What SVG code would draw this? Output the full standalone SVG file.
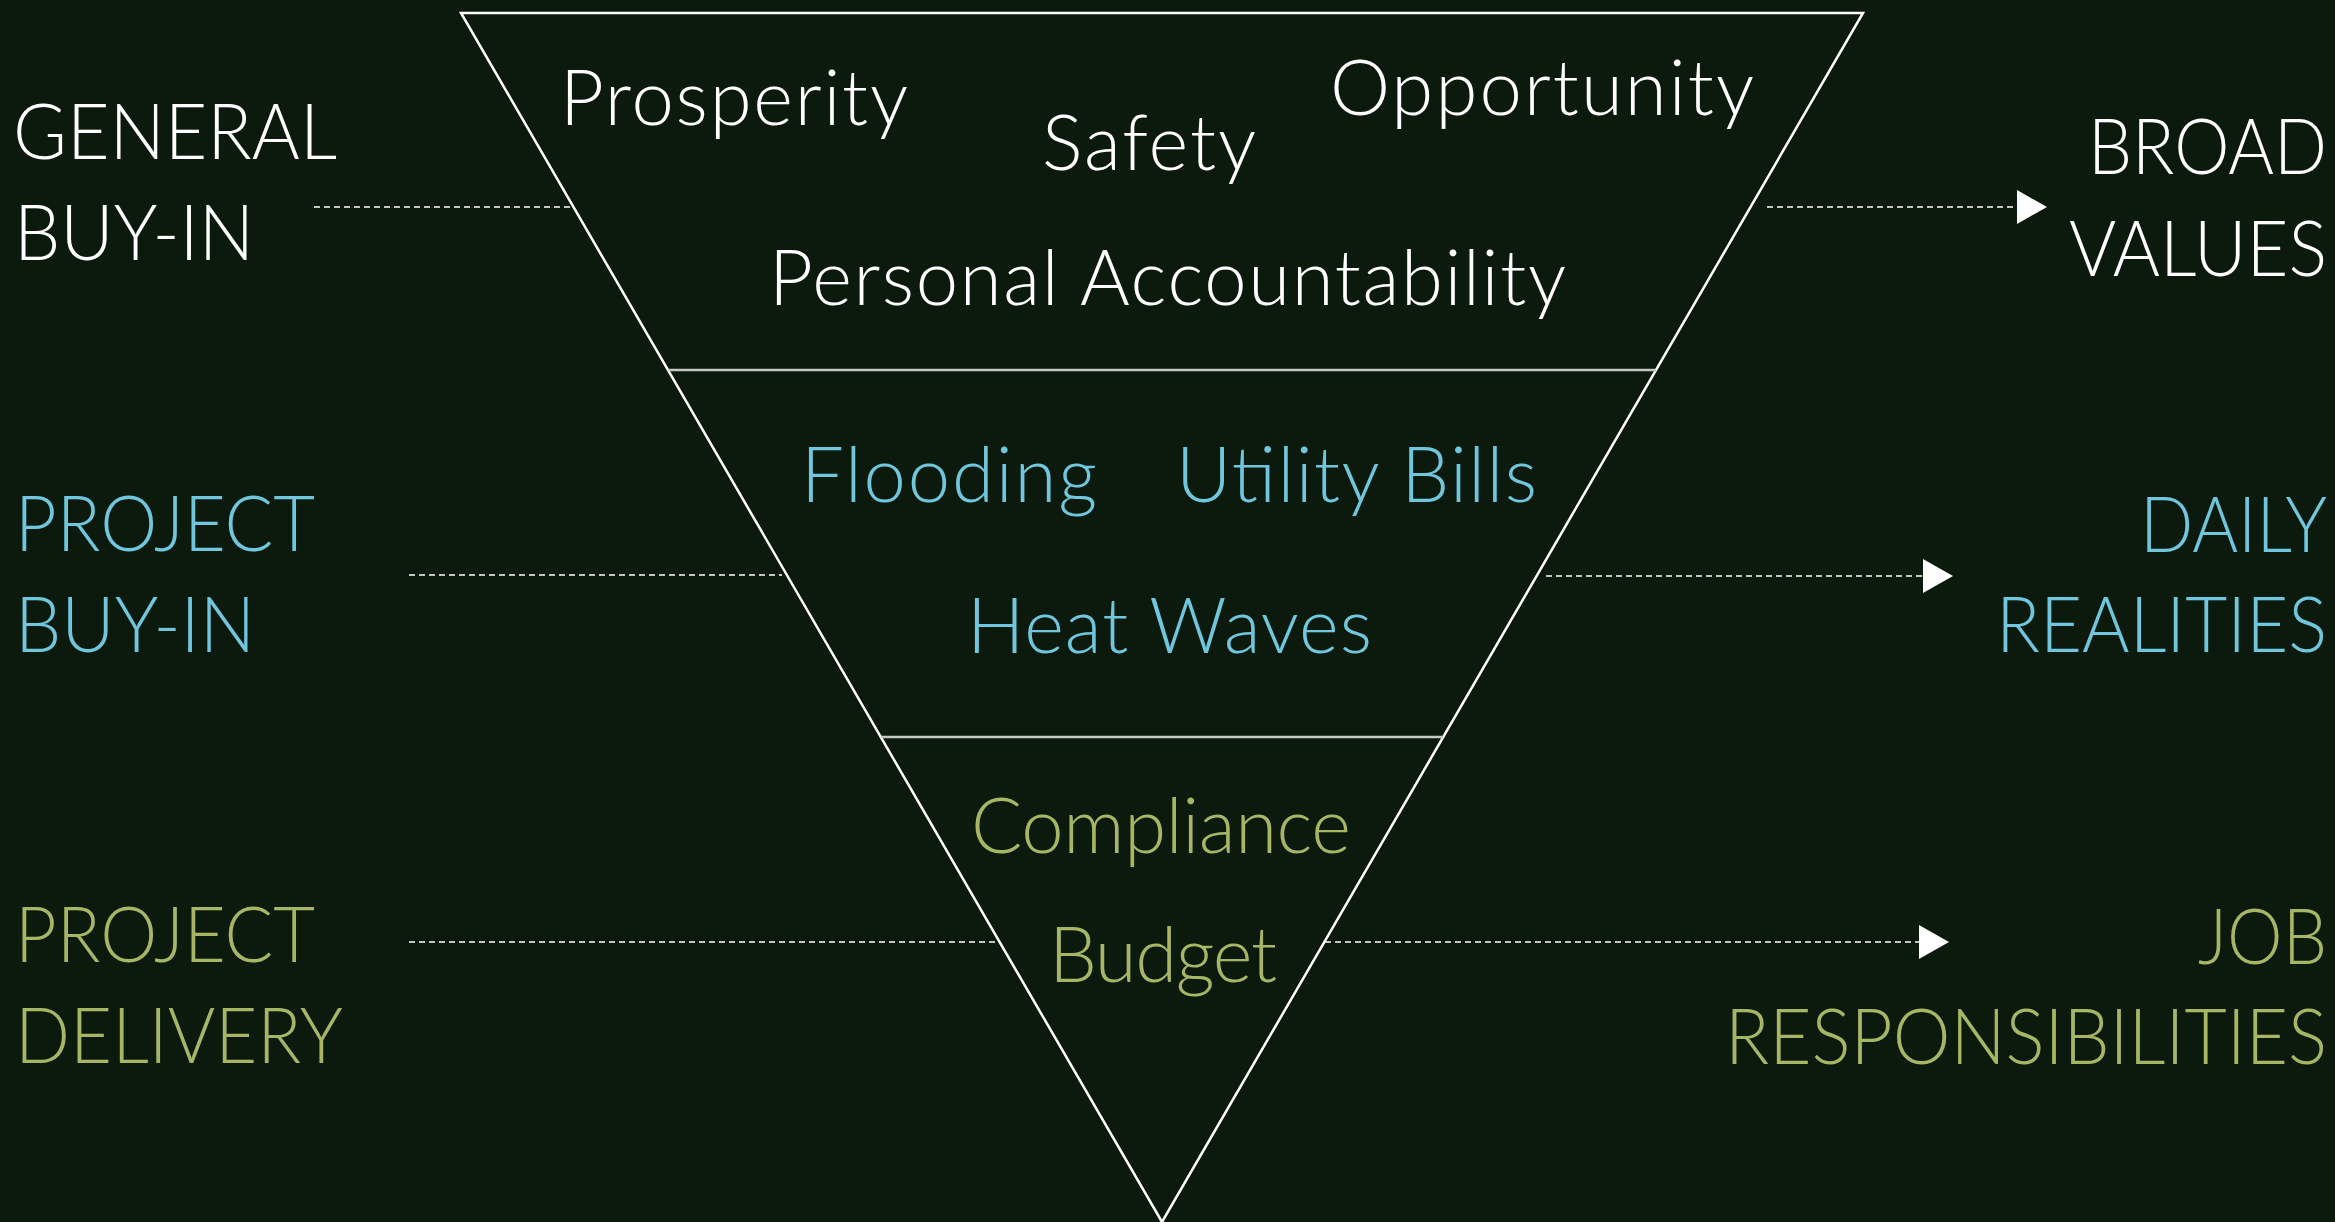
<svg xmlns="http://www.w3.org/2000/svg" width="2335" height="1222" viewBox="0 0 2335 1222">
<style>
text{font-family:Lato,"Open Sans","Liberation Sans",sans-serif;font-weight:300;font-size:76px}
.w{fill:#ffffff}
.b{fill:#6fc6dd}
.g{fill:#a6b664}
.end{text-anchor:end}
.edge{fill:none;stroke:#ffffff;stroke-width:2.5}
.div{stroke:#c4cac2;stroke-width:2.5}
.dash{stroke:#ffffff;stroke-width:1.7;stroke-dasharray:6 4;fill:none}
</style>
<defs>
<marker id="arr" markerUnits="userSpaceOnUse" markerWidth="30" markerHeight="34" refX="0" refY="17" orient="auto">
<path d="M0,0 L30,17 L0,34 Z" fill="#ffffff"/>
</marker>
</defs>
<rect width="2335" height="1222" fill="#0c1a0e"/>
<g id="pyramid">
<polygon class="edge" points="461,13 1863,13 1162,1222"/>
<line class="div" x1="668" y1="370" x2="1656" y2="370"/>
<line class="div" x1="881" y1="737" x2="1443" y2="737"/>
</g>
<g id="tier-values">
<text class="w" x="560" y="125" textLength="348">Prosperity</text>
<text class="w" x="1042" y="170" textLength="214">Safety</text>
<text class="w" x="1330" y="115" textLength="424">Opportunity</text>
<text class="w" x="769" y="305" textLength="797">Personal Accountability</text>
</g>
<g id="tier-realities">
<text class="b" x="801" y="502" textLength="296">Flooding</text>
<text class="b" x="1176" y="502" textLength="361">Utility Bills</text>
<text class="b" x="967" y="653" textLength="405">Heat Waves</text>
</g>
<g id="tier-responsibilities">
<text class="g" x="971" y="853" textLength="380">Compliance</text>
<text class="g" x="1049" y="982" textLength="228">Budget</text>
</g>
<g id="label-general-buyin">
<text class="w" x="13" y="159" textLength="324" lengthAdjust="spacingAndGlyphs">GENERAL</text>
<text class="w" x="14" y="260" textLength="240" lengthAdjust="spacingAndGlyphs">BUY-IN</text>
</g>
<g id="label-project-buyin">
<text class="b" x="15" y="551" textLength="300" lengthAdjust="spacingAndGlyphs">PROJECT</text>
<text class="b" x="15" y="652" textLength="240" lengthAdjust="spacingAndGlyphs">BUY-IN</text>
</g>
<g id="label-project-delivery">
<text class="g" x="15" y="962" textLength="300" lengthAdjust="spacingAndGlyphs">PROJECT</text>
<text class="g" x="15" y="1063" textLength="328" lengthAdjust="spacingAndGlyphs">DELIVERY</text>
</g>
<g id="label-broad-values">
<text class="w end" x="2327" y="174" textLength="239" lengthAdjust="spacingAndGlyphs">BROAD</text>
<text class="w end" x="2327" y="276" textLength="258" lengthAdjust="spacingAndGlyphs">VALUES</text>
</g>
<g id="label-daily-realities">
<text class="b end" x="2327" y="552" textLength="187" lengthAdjust="spacingAndGlyphs">DAILY</text>
<text class="b end" x="2327" y="652" textLength="331" lengthAdjust="spacingAndGlyphs">REALITIES</text>
</g>
<g id="label-job-responsibilities">
<text class="g end" x="2327" y="964" textLength="129" lengthAdjust="spacingAndGlyphs">JOB</text>
<text class="g end" x="2327" y="1064" textLength="602" lengthAdjust="spacingAndGlyphs">RESPONSIBILITIES</text>
</g>
<g id="connectors">
<line class="dash" x1="314" y1="207" x2="573" y2="207"/>
<line class="dash" x1="1767" y1="207" x2="2017" y2="207" marker-end="url(#arr)"/>
<line class="dash" x1="409" y1="575" x2="782" y2="575"/>
<line class="dash" x1="1546" y1="576" x2="1923" y2="576" marker-end="url(#arr)"/>
<line class="dash" x1="409" y1="942" x2="999" y2="942"/>
<line class="dash" x1="1325" y1="942" x2="1919" y2="942" marker-end="url(#arr)"/>
</g>
</svg>
